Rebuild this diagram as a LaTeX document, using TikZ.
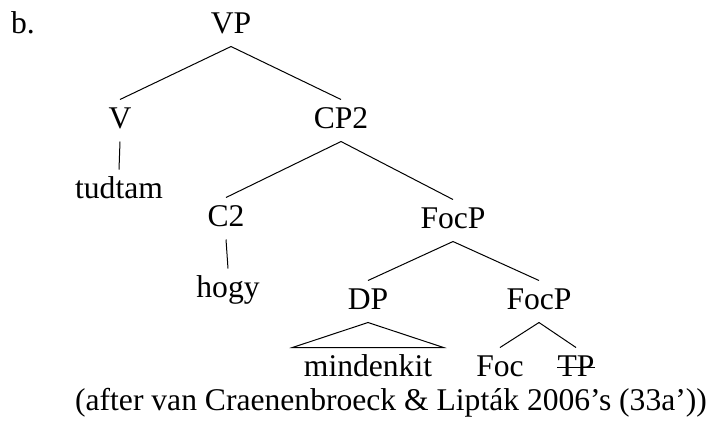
\documentclass[tikz,border=0pt]{standalone}
\usepackage{fontspec}
\setmainfont{Liberation Serif}

\begin{document}
\begin{tikzpicture}[x=0.5pt,y=-0.5pt,line width=0.5pt,
		every node/.style={font=\fontsize{15.8}{19}\selectfont},
		cat/.style={anchor=base,inner xsep=0pt,inner ysep=3.5pt,text height=10.5pt,text depth=3pt},
		tri/.style={cat,inner xsep=5.5pt},]
		\useasboundingbox (0,0) rectangle (712,420);
		% create the nodes
		\node (lbl) [anchor=base] at (23,33) {b.};
		\node (vp) [cat] at (231,33) {VP};
		\node (v) [cat] at (120,128) {V};
		\node (cp) [cat] at (341,128) {CP2};
		\node (tudtam) [cat] at (119,198) {tudtam};
		\node (c) [cat] at (226,226) {C2};
		\node (focp) [cat] at (453,228) {FocP};
		\node (hogy) [cat] at (228,297) {hogy};
		\node (dp) [cat] at (368,309) {DP};
		\node (focbar) [cat] at (539,309) {FocP};
		\node (mindenkit) [tri] at (368,376) {mindenkit};
		\node (foc) [cat] at (500,376) {Foc};
		\node (tp) [cat] at (576,376) {TP};
		
		\node (src) [anchor=base] at (391,410) {(after van Craenenbroeck \& Lipták 2006’s (33a’))};
		
		% connect the nodes
		\draw (vp.south) -- (v.north);
		\draw (vp.south) -- (cp.north);
		\draw (v.south) -- (tudtam.north);
		\draw (cp.south) -- (c.north);
		\draw (cp.south) -- (focp.north);
		\draw (c.south) -- (hogy.north);
		\draw (focp.south) -- (dp.north);
		\draw (focp.south) -- (focbar.north);
		\draw (dp.south) -- (mindenkit.north west) -- (mindenkit.north east) -- cycle;
		\draw (focbar.south) -- (foc.north);
		\draw (focbar.south) -- (tp.north);
		% strike out TP
		\draw ([yshift=4.5pt]tp.base west) -- ([yshift=4.5pt]tp.base east);
		
	\end{tikzpicture}
\end{document}
